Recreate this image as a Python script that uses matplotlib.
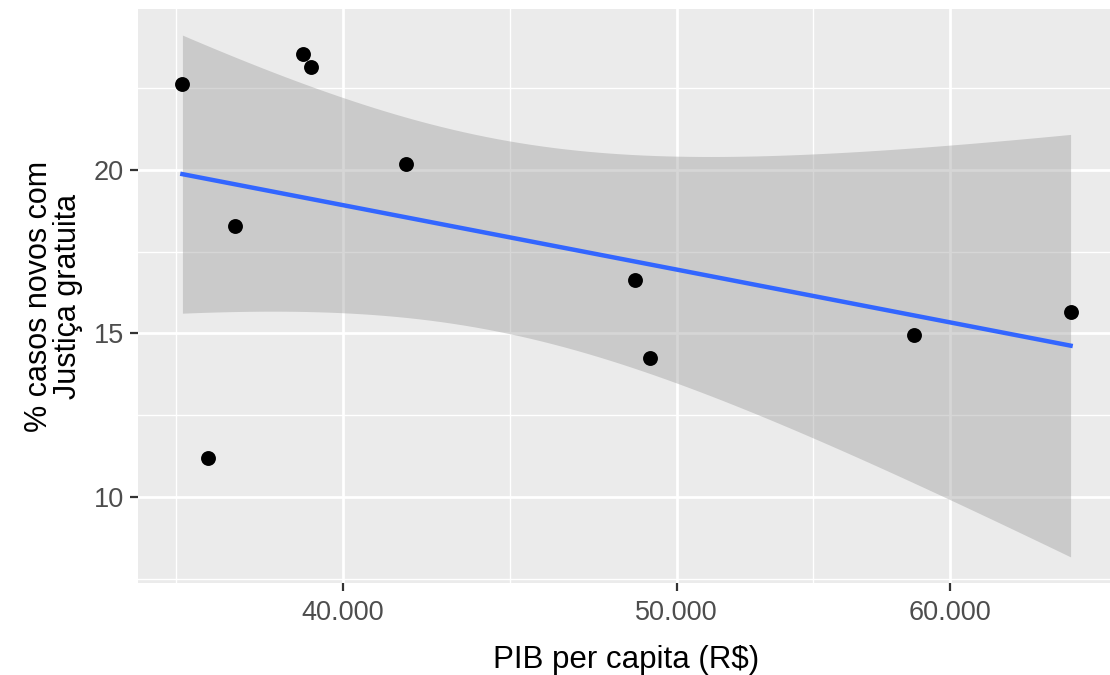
import numpy as np
import matplotlib
matplotlib.use("Agg")
import matplotlib.pyplot as plt
import matplotlib.ticker as mticker

# data (x on log10 scale)
pib = [35940, 36560, 37230, 38950, 39170, 41720, 48640, 49110, 58600, 65050]
pct = [22.62, 11.18, 18.29, 23.54, 23.14, 20.16, 16.64, 14.26, 14.94, 15.64]
xticks = [40000, 50000, 60000]
xtick_labels = ["40.000", "50.000", "60.000"]
yticks = [10, 15, 20]

plt.rcParams['font.family'] = ['Liberation Sans', 'DejaVu Sans']

# linear fit on log10(x), 95% confidence band (like geom_smooth(method="lm"))
lx = np.log10(pib)
y = np.array(pct)
n = len(lx)
b1, b0 = np.polyfit(lx, y, 1)
resid = y - (b0 + b1 * lx)
s = np.sqrt(np.sum(resid ** 2) / (n - 2))
tcrit = 2.306  # t(0.975, df=8)
xs = np.linspace(lx.min(), lx.max(), 80)
ys = b0 + b1 * xs
se = s * np.sqrt(1 / n + (xs - lx.mean()) ** 2 / np.sum((lx - lx.mean()) ** 2))
lo, hi = ys - tcrit * se, ys + tcrit * se

fig = plt.figure(figsize=(11.1, 6.75), dpi=100)
ax = fig.add_axes([138 / 1110, 92 / 675, 977 / 1110, 574 / 675])
ax.set_facecolor('#EBEBEB')

ax.fill_between(10 ** xs, lo, hi, color='#999999', alpha=0.4, linewidth=0, zorder=2)
ax.plot(10 ** xs, ys, color='#3366FF', linewidth=3.2, zorder=3)
ax.scatter(pib, pct, s=115, color='black', zorder=4, linewidths=0)

ax.set_xscale('log')
xr = lx.max() - lx.min()
ax.set_xlim(10 ** (lx.min() - 0.05 * xr), 10 ** (lx.max() + 0.05 * xr))
ymin, ymax = min(lo.min(), y.min()), max(hi.max(), y.max())
yr = ymax - ymin
ax.set_ylim(ymin - 0.05 * yr, ymax + 0.05 * yr)

ax.xaxis.set_major_locator(mticker.FixedLocator(xticks))
ax.xaxis.set_major_formatter(mticker.FixedFormatter(xtick_labels))
# ggplot-style minor breaks: midpoints in log space
step = np.log10(xticks[1]) - np.log10(xticks[0])
lb = np.log10(xticks)
lb = np.concatenate([[lb[0] - step], lb, [lb[-1] + step]])
xminor = 10 ** ((lb[:-1] + lb[1:]) / 2)
ax.xaxis.set_minor_locator(mticker.FixedLocator(xminor))
ax.xaxis.set_minor_formatter(mticker.NullFormatter())

ax.set_yticks(yticks)
ax.yaxis.set_minor_locator(mticker.FixedLocator([7.5, 12.5, 17.5, 22.5]))

ax.grid(which='major', color='white', linewidth=2.0, zorder=0)
ax.grid(which='minor', color='white', linewidth=1.0, zorder=0)
ax.set_axisbelow(True)
for sp in ax.spines.values():
    sp.set_visible(False)

ax.tick_params(which='major', length=6, width=1.6, color='#333333',
               labelcolor='#4D4D4D', labelsize=19.5, pad=4)
ax.tick_params(axis='x', which='major', pad=6)
ax.tick_params(which='minor', length=0)

ax.set_xlabel('PIB per capita (R$)', fontsize=22.5, color='black', labelpad=14)
ax.set_ylabel('% casos novos com\nJustiça gratuita', fontsize=22, color='black',
              labelpad=8, linespacing=0.95)

fig.savefig('out.png', dpi=100, facecolor='white')
